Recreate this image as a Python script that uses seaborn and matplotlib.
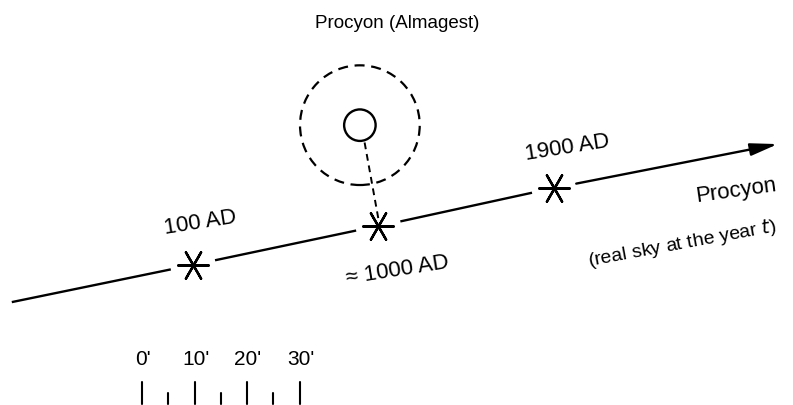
import numpy as np
import matplotlib
matplotlib.use('Agg')
import matplotlib.pyplot as plt
from matplotlib.patches import Circle
import seaborn as sns
import pandas as pd

# positions on the sky, in arc minutes (x east-west, y north-south)
years = ['100 AD', '\u2248 1000 AD', '1900 AD']
star_x = [9.7, 45.0, 78.5]
star_y = [26.7, 34.1, 41.3]
track_start = [-24.8, 19.6]
track_end = [121.1, 49.7]
# Almagest position of Procyon and its error circle
almagest_xy = [41.5, 53.3]
almagest_r = 3.0
error_r = 11.4
# scale bar
scale_ticks = [0, 5, 10, 15, 20, 25, 30]
scale_labels = ["0'", "10'", "20'", "30'"]

sns.set_style('white')
plt.rcParams['font.family'] = ['Liberation Sans', 'DejaVu Sans']
plt.rcParams['text.color'] = 'black'

k = 5.25  # px per arc minute
fig = plt.figure(figsize=(7.93, 4.06), dpi=100)
ax = fig.add_axes([0, 0, 1, 1])
ax.set_xlim(-142 / k, (793 - 142) / k)
ax.set_ylim(0, 406 / k)
ax.axis('off')

#track with gaps around the stars
p0 = np.array(track_start)
p1 = np.array(track_end)
u = (p1 - p0) / np.linalg.norm(p1 - p0)
gap = 4.3
pts = [p0]
for sx, sy in zip(star_x, star_y):
    c = np.array([sx, sy])
    pts.append(c - gap * u)
    pts.append(c + gap * u)
pts.append(p1)
for i in range(0, len(pts) - 2, 2):
    a, b = pts[i], pts[i + 1]
    ax.plot([a[0], b[0]], [a[1], b[1]], color='black', lw=1.7, solid_capstyle='butt')
a = pts[-2]
ax.annotate('', xy=p1, xytext=a,
            arrowprops=dict(arrowstyle='-|>,head_length=1.1,head_width=0.25',
                            mutation_scale=15, color='black', lw=1.7,
                            shrinkA=0, shrinkB=0))

# stars
stars = pd.DataFrame({'x': star_x, 'y': star_y, 'year': years})
sns.scatterplot(data=stars, x='x', y='y', marker=(6, 2, 90), s=480,
                color='black', linewidth=1.7, ax=ax, legend=False)

# Almagest position
ax.add_patch(Circle(almagest_xy, almagest_r, fill=False, ec='black', lw=1.7))
ax.add_patch(Circle(almagest_xy, error_r, fill=False, ec='black', lw=1.6,
                    ls=(0, (4.5, 3))))
ax.plot([almagest_xy[0] + 0.9, star_x[1]], [almagest_xy[1] - almagest_r - 0.3, star_y[1] + 1.5],
        color='black', lw=1.4, ls=(0, (3.5, 2.5)))

#labels
ax.text(almagest_xy[0] + 7.1, 72.8, 'Procyon (Almagest)', ha='center', va='center', fontsize=13.5)
offsets = [(1.35, 8.2), (3.6, -8.2), (2.45, 7.8)]
for lab, sx, sy, (dx, dy) in zip(years, star_x, star_y, offsets):
    ax.text(sx + dx, sy + dy, lab, ha='center', va='center', fontsize=16, rotation=9,
            rotation_mode='anchor')
ax.text(113.1, 41.0, 'Procyon', ha='center', va='center', fontsize=16, rotation=8,
        rotation_mode='anchor')
ax.text(102.9, 31.0, '(real sky at the year $t$)', ha='center', va='center', fontsize=14,
        rotation=10.5, rotation_mode='anchor')

# scale bar
for t in scale_ticks:
    top = 4.4 if t % 10 == 0 else 2.2
    ax.plot([t, t], [0.2, top], color='black', lw=1.5)
for i, lab in enumerate(scale_labels):
    ax.text(i * 10 + 0.2, 8.8, lab, ha='center', va='center', fontsize=15)

plt.savefig('out.png', dpi=100)
